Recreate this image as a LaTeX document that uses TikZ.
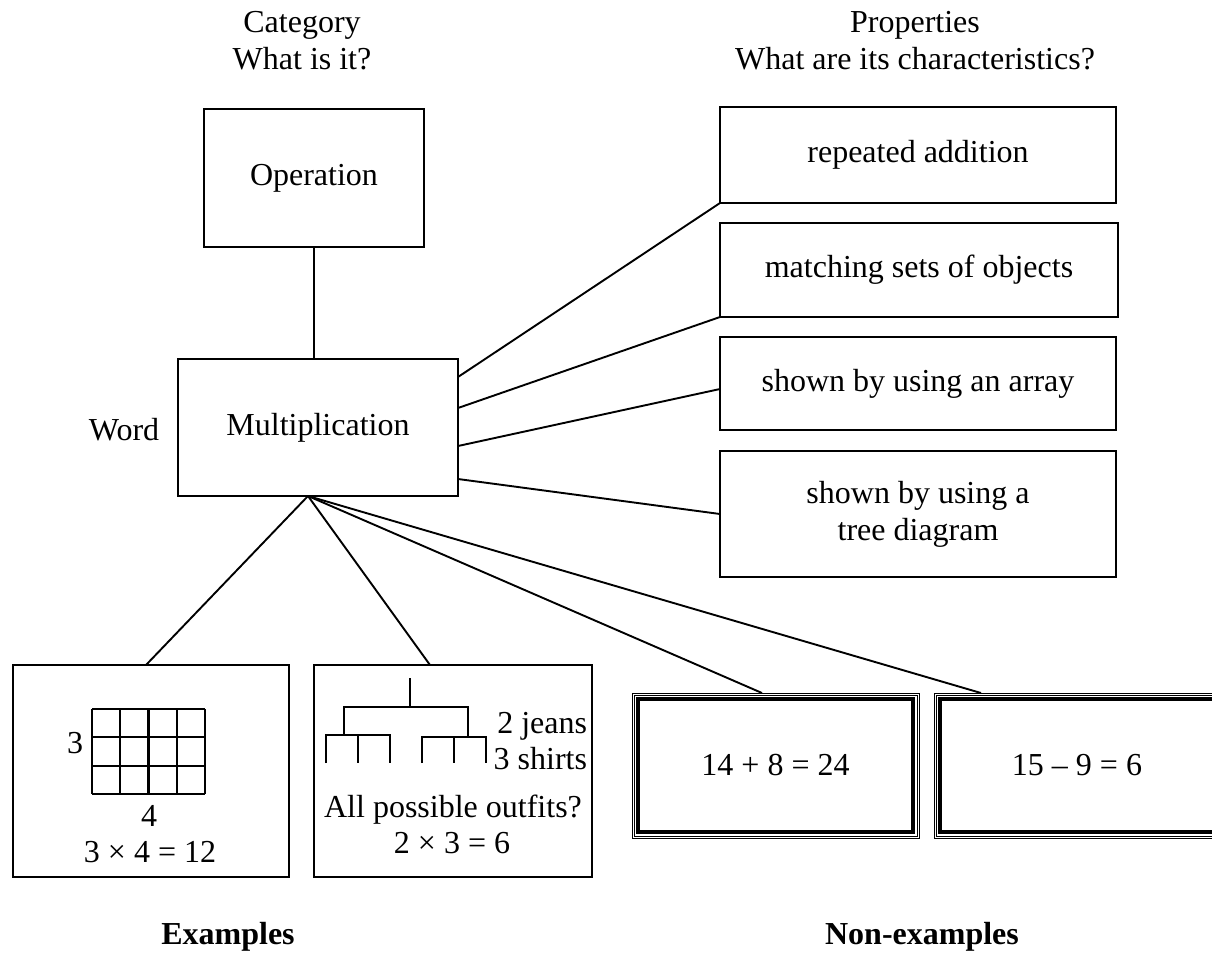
\documentclass[tikz,border=0pt]{standalone}
\usepackage{fontspec}
\setmainfont{Liberation Serif}
\usetikzlibrary{calc}
\tikzset{
  txt/.style={font=\fontsize{32}{37}\selectfont, inner sep=0pt, outer sep=0pt},
  box/.style={txt, draw, line width=2.4pt, align=center},
  nbox/.style={txt, draw, line width=1pt, align=center},
  conn/.style={line width=1.9pt},
  gridline/.style={line width=2.2pt},
  lbl/.style={txt, anchor=base},
  boldlbl/.style={txt, font=\fontsize{32}{37}\selectfont\bfseries},
}
\begin{document}
\begin{tikzpicture}[x=1pt,y=-1pt]
\useasboundingbox (0,0) rectangle (1212,959);

% headings
\node[lbl] (cat1) at (302,32) {Category};
\node[lbl] (cat2) at (302,69) {What is it?};
\node[lbl] (prop1) at (915,32) {Properties};
\node[lbl] (prop2) at (915,69) {What are its characteristics?};

% main boxes
\node[box, minimum width=220pt, minimum height=138pt] (op) at (314,178) {Operation};
\node[box, minimum width=280pt, minimum height=137pt] (mult) at (318,427.5) {Multiplication};
\node[txt] (word) at (124,430) {Word};

% property boxes
\node[box, minimum width=396pt, minimum height=96pt] (p1) at (918,155) {repeated addition};
\node[box, minimum width=398pt, minimum height=94pt] (p2) at (919,270) {matching sets of objects};
\node[box, minimum width=396pt, minimum height=93pt] (p3) at (918,383.5) {shown by using an array};
\node[box, minimum width=396pt, minimum height=126pt] (p4) at (918,514) {shown by using a\\tree diagram};

% example boxes
\node[box, minimum width=276pt, minimum height=212pt] (exA) at (151,771) {};
\node[box, minimum width=278pt, minimum height=212pt] (exB) at (453,771) {};

% non-example boxes
\node[nbox, minimum width=287pt, minimum height=145pt] (nC) at (775.5,765.5) {14 + 8 = 24};
\node[nbox, minimum width=286pt, minimum height=145pt] (nD) at (1077,765.5) {15 – 9 = 6};
\foreach \n in {nC,nD}{
  \draw[line width=1pt] ($(\n.north west)+(2pt,-2pt)$) rectangle ($(\n.south east)+(-2pt,2pt)$);
  \draw[line width=4.5pt] ($(\n.north west)+(6pt,-6pt)$) rectangle ($(\n.south east)+(-6pt,6pt)$);
}

% connectors
\draw[conn] (op.south) -- (op.south |- mult.north);
\draw[conn] ($(mult.north east)+(0,-18pt)$) -- (p1.south west);
\draw[conn] ($(mult.north east)+(0,-49pt)$) -- (p2.south west);
\draw[conn] ($(mult.north east)+(0,-87pt)$) -- ($(p3.west)+(0,-5.5pt)$);
\draw[conn] ($(mult.north east)+(0,-120pt)$) -- (p4.west);
\coordinate (hub) at ($(mult.south)+(-10pt,0)$);
\draw[conn] (hub) -- ($(exA.north)+(-5pt,0)$);
\draw[conn] (hub) -- ($(exB.north)+(-23pt,0)$);
\draw[conn] (hub) -- ($(nC.north)+(-13.5pt,0)$);
\draw[conn] (hub) -- ($(nD.north)+(-96pt,0)$);

% array example
\foreach \i in {0,...,4} \draw[gridline] (92+28.25*\i,709) -- (92+28.25*\i,794);
\foreach \j in {0,...,3} \draw[gridline] (92,709+28.333*\j) -- (205,709+28.333*\j);
\node[txt, anchor=base east] (three) at (83,753) {3};
\node[lbl] (four) at (149,826) {4};
\node[lbl] (eqA) at (150,862) {3 × 4 = 12};

% tree example
\draw[gridline] (410,678) -- (410,707);
\draw[gridline] (344,735) -- (344,707) -- (468,707) -- (468,737);
\draw[gridline] (326,763) -- (326,735) -- (390,735) -- (390,763);
\draw[gridline] (358,735) -- (358,763);
\draw[gridline] (422,763) -- (422,737) -- (486,737) -- (486,763);
\draw[gridline] (454,737) -- (454,763);
\node[txt, anchor=base east] (jeans) at (587,733) {2 jeans};
\node[txt, anchor=base east] (shirts) at (587,769) {3 shirts};
\node[lbl] (outfits) at (453,817) {All possible outfits?};
\node[lbl] (eqB) at (452,853) {2 × 3 = 6};

% bottom labels
\node[boldlbl] (exlbl) at (228,937) {Examples};
\node[boldlbl] (nexlbl) at (922,937) {Non-examples};
\end{tikzpicture}
\end{document}
